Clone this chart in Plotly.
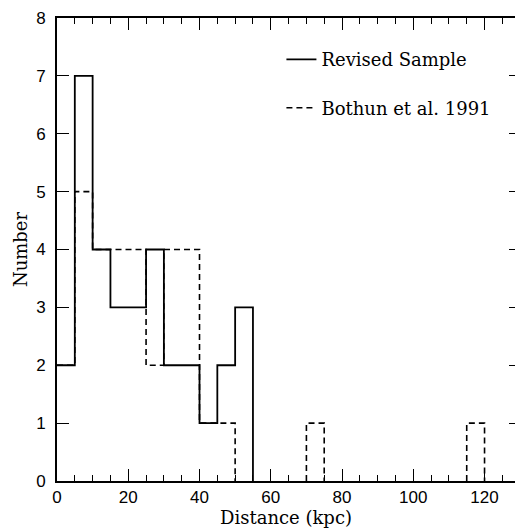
import plotly.graph_objects as go

BIN_WIDTH = 5  # kpc

# bin left edges (kpc) and counts
edges_revised = [0, 5, 10, 15, 20, 25, 30, 35, 40, 45, 50]
counts_revised = [2, 7, 4, 3, 3, 4, 2, 2, 1, 2, 3]

edges_bothun = [0, 5, 10, 15, 20, 25, 30, 35, 40, 45, 50, 55, 60, 65, 70, 75,
                80, 85, 90, 95, 100, 105, 110, 115]
counts_bothun = [2, 5, 4, 4, 4, 2, 4, 4, 1, 1, 0, 0, 0, 0, 1, 0,
                 0, 0, 0, 0, 0, 0, 0, 1]

x_ticks = [0, 20, 40, 60, 80, 100, 120]
y_ticks = [0, 1, 2, 3, 4, 5, 6, 7, 8]


def step_path(edges, counts, width):
    """Histogram outline; horizontal runs at zero are left out (they sit on the axis)."""
    xs, ys = [], []
    prev = 0
    for e, c in zip(edges, counts):
        if c == 0:
            if prev != 0:
                xs.append(e); ys.append(0)
            if xs and xs[-1] is not None:
                xs.append(None); ys.append(None)
            prev = 0
            continue
        if prev == 0 and e != edges[0]:
            xs.append(e); ys.append(0)
        xs += [e, e + width]
        ys += [c, c]
        prev = c
    if prev != 0:
        xs.append(xs[-1]); ys.append(0)
    return xs, ys


serif = "DejaVu Serif"
sans = "Liberation Sans"

bx, by = step_path(edges_bothun, counts_bothun, BIN_WIDTH)
rx, ry = step_path(edges_revised, counts_revised, BIN_WIDTH)

fig = go.Figure()
fig.add_trace(go.Scatter(
    x=bx, y=by, mode="lines",
    line=dict(color="black", width=1.6, dash="6px,4px"),
    name="Bothun et al. 1991", legendgroup="b", legendrank=2))
fig.add_trace(go.Scatter(
    x=rx, y=ry, mode="lines",
    line=dict(color="black", width=1.8),
    name="Revised Sample", legendgroup="a", legendrank=1))
fig.add_trace(go.Scatter(x=[None], y=[None], yaxis="y2", showlegend=False,
                         hoverinfo="skip"))

fig.update_layout(
    width=515, height=530,
    margin=dict(l=57, r=0, t=18, b=49),
    plot_bgcolor="white", paper_bgcolor="white",
    showlegend=True,
    legend=dict(x=0.49, y=0.95, xanchor="left", yanchor="top",
                font=dict(family=serif, size=18, color="black"),
                tracegroupgap=22, bgcolor="rgba(0,0,0,0)"),
    xaxis=dict(range=[0, 128.55], tickvals=x_ticks, ticks="inside", ticklen=12,
               tickwidth=1.3, tickcolor="black", showline=True, linecolor="black",
               linewidth=1.6, mirror="ticks", showgrid=False, zeroline=False,
               tickfont=dict(family=sans, size=17, color="black"),
               minor=dict(dtick=5, tick0=0, ticks="inside", ticklen=6,
                          tickwidth=1.3, tickcolor="black", showgrid=False),
               title=dict(text="Distance (kpc)", standoff=2,
                          font=dict(family=serif, size=18, color="black"))),
    yaxis=dict(range=[0, 8], tickvals=y_ticks, ticks="inside", ticklen=12,
               tickwidth=1.3, tickcolor="black", showline=True, linecolor="black",
               linewidth=1.6, mirror=False, showgrid=False, zeroline=False,
               ticklabelstandoff=6,
               tickfont=dict(family=sans, size=17, color="black"),
               title=dict(text="Number", standoff=4,
                          font=dict(family=serif, size=18, color="black"))),
    yaxis2=dict(range=[0, 8], overlaying="y", side="right", tickvals=y_ticks,
                ticks="inside", ticklen=6, tickwidth=1.3, tickcolor="black",
                showticklabels=False, showline=False, showgrid=False,
                zeroline=False),
)

fig.write_html("out.html")
